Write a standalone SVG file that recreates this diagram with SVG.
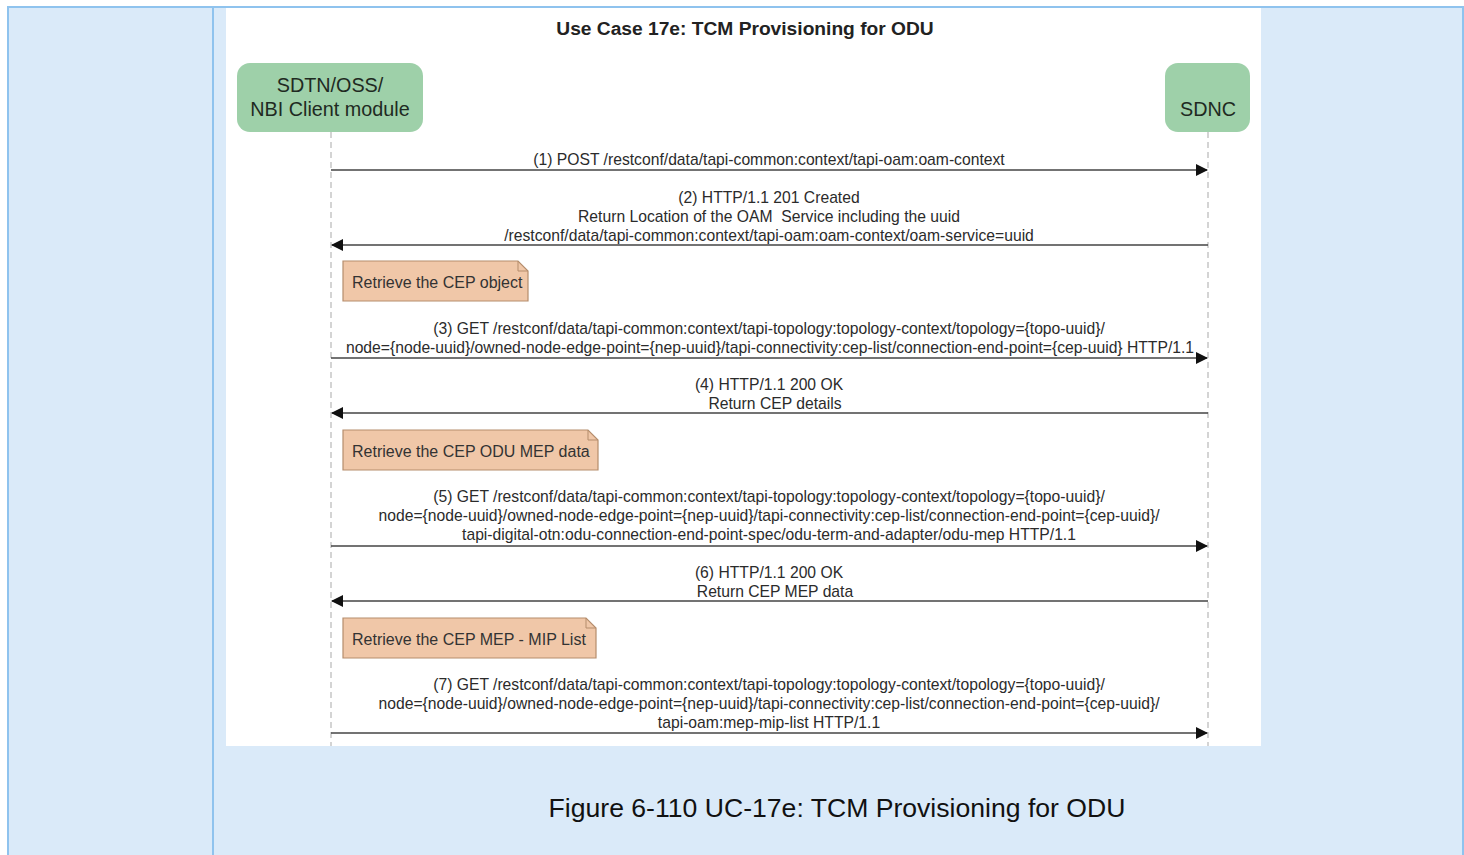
<svg xmlns="http://www.w3.org/2000/svg" width="1464" height="855" viewBox="0 0 1464 855">
<style>
.msg{font-family:"Liberation Sans",Arial,sans-serif;font-size:15.7px;fill:#2b2b2b;text-anchor:middle}
.part{font-family:"Liberation Sans",Arial,sans-serif;font-size:19.8px;fill:#1f2a22;text-anchor:middle}
.note{font-family:"Liberation Sans",Arial,sans-serif;font-size:16px;fill:#333}
.notebox{fill:#f0c7a8;stroke:#b58d6d;stroke-width:1.2}
.life{stroke:#b8b8b8;stroke-width:1.2;stroke-dasharray:6,4;fill:none}
.arrow{stroke:#444;stroke-width:1.6;fill:none}
</style>
<defs>
<marker id="ah" markerWidth="12" markerHeight="12" refX="11" refY="6" orient="auto" markerUnits="userSpaceOnUse">
<path d="M0,0 L12,6 L0,12 Z" fill="#111"/>
</marker>
</defs>
<rect x="0" y="0" width="1464" height="855" fill="#ffffff"/>
<rect x="8" y="7" width="1455" height="860" fill="#daeaf9" stroke="#8fc3ee" stroke-width="2"/>
<line x1="213" y1="7" x2="213" y2="855" stroke="#8fc3ee" stroke-width="2"/>
<rect x="226" y="8" width="1035" height="738" fill="#ffffff"/>
<text x="745" y="35" font-family="Liberation Sans,Arial,sans-serif" font-size="19.2" font-weight="bold" fill="#222" text-anchor="middle">Use Case 17e: TCM Provisioning for ODU</text>
<g id="lifelines">
<line class="life" x1="331" y1="132" x2="331" y2="746"/>
<line class="life" x1="1208" y1="132" x2="1208" y2="746"/>
</g>
<g id="sdtn">
<rect x="237" y="63" width="186" height="69" rx="13" fill="#9ed0a9"/>
<text class="part" x="330" y="92">SDTN/OSS/</text>
<text class="part" x="330" y="116">NBI Client module</text>
</g>
<g id="sdnc">
<rect x="1165" y="63" width="85" height="69" rx="13" fill="#9ed0a9"/>
<text class="part" x="1208" y="116">SDNC</text>
</g>
<g id="connectors">
<line class="arrow" x1="331" y1="170" x2="1207" y2="170" marker-end="url(#ah)"/>
<line class="arrow" x1="1208" y1="245" x2="332" y2="245" marker-end="url(#ah)"/>
<line class="arrow" x1="331" y1="358" x2="1207" y2="358" marker-end="url(#ah)"/>
<line class="arrow" x1="1208" y1="413" x2="332" y2="413" marker-end="url(#ah)"/>
<line class="arrow" x1="331" y1="546" x2="1207" y2="546" marker-end="url(#ah)"/>
<line class="arrow" x1="1208" y1="601" x2="332" y2="601" marker-end="url(#ah)"/>
<line class="arrow" x1="331" y1="733" x2="1207" y2="733" marker-end="url(#ah)"/>
</g>
<g id="labels">
<text class="msg" x="769" y="165">(1) POST /restconf/data/tapi-common:context/tapi-oam:oam-context</text>
<text class="msg" x="769" y="203">(2) HTTP/1.1 201 Created</text>
<text class="msg" x="769" y="222">Return Location of the OAM &#160;Service including the uuid</text>
<text class="msg" x="769" y="241">/restconf/data/tapi-common:context/tapi-oam:oam-context/oam-service=uuid</text>
<text class="msg" x="769" y="334">(3) GET /restconf/data/tapi-common:context/tapi-topology:topology-context/topology={topo-uuid}/</text>
<text class="msg" x="770" y="353">node={node-uuid}/owned-node-edge-point={nep-uuid}/tapi-connectivity:cep-list/connection-end-point={cep-uuid} HTTP/1.1</text>
<text class="msg" x="769" y="390">(4) HTTP/1.1 200 OK</text>
<text class="msg" x="775" y="409">Return CEP details</text>
<text class="msg" x="769" y="502">(5) GET /restconf/data/tapi-common:context/tapi-topology:topology-context/topology={topo-uuid}/</text>
<text class="msg" x="769" y="521">node={node-uuid}/owned-node-edge-point={nep-uuid}/tapi-connectivity:cep-list/connection-end-point={cep-uuid}/</text>
<text class="msg" x="769" y="540">tapi-digital-otn:odu-connection-end-point-spec/odu-term-and-adapter/odu-mep HTTP/1.1</text>
<text class="msg" x="769" y="578">(6) HTTP/1.1 200 OK</text>
<text class="msg" x="775" y="597">Return CEP MEP data</text>
<text class="msg" x="769" y="690">(7) GET /restconf/data/tapi-common:context/tapi-topology:topology-context/topology={topo-uuid}/</text>
<text class="msg" x="769" y="709">node={node-uuid}/owned-node-edge-point={nep-uuid}/tapi-connectivity:cep-list/connection-end-point={cep-uuid}/</text>
<text class="msg" x="769" y="728">tapi-oam:mep-mip-list HTTP/1.1</text>
</g>
<g id="note1">
<path class="notebox" d="M343,261 H518 L528,271 V301 H343 Z"/>
<path d="M518,261 V271 H528" fill="none" stroke="#b58d6d" stroke-width="1"/>
<text class="note" x="352" y="287.5">Retrieve the CEP object</text>
</g>
<g id="note2">
<path class="notebox" d="M343,430 H588 L598,440 V470 H343 Z"/>
<path d="M588,430 V440 H598" fill="none" stroke="#b58d6d" stroke-width="1"/>
<text class="note" x="352" y="456.5">Retrieve the CEP ODU MEP data</text>
</g>
<g id="note3">
<path class="notebox" d="M343,618 H586 L596,628 V658 H343 Z"/>
<path d="M586,618 V628 H596" fill="none" stroke="#b58d6d" stroke-width="1"/>
<text class="note" x="352" y="644.5">Retrieve the CEP MEP - MIP List</text>
</g>
<text x="837" y="817" font-family="Liberation Sans,Arial,sans-serif" font-size="26.6" fill="#111" text-anchor="middle">Figure 6-110 UC-17e: TCM Provisioning for ODU</text>
</svg>
